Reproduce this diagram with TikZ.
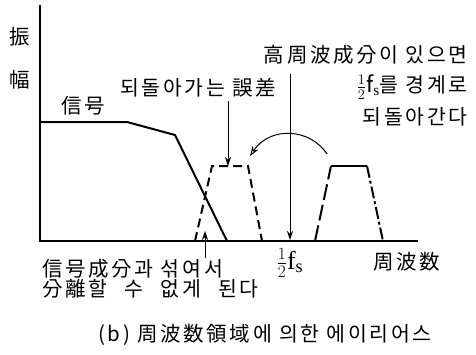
\documentclass[tikz,border=0pt]{standalone}
\usepackage{fontspec}
\setmainfont{Liberation Serif}
\newfontfamily\kr[LetterSpace=13]{Noto Sans CJK KR}
\usetikzlibrary{arrows.meta}
\newcommand\halffs{{\fontsize{22}{24}\selectfont$\frac{1}{2}$f$_{\mathrm s}$}}
\begin{document}
\begin{tikzpicture}[x=1pt,y=-1pt,
  lbl/.style={font=\kr\fontsize{20.5}{23}\selectfont, inner sep=0pt, align=center},
  axisline/.style={line width=1.4pt},
  curve/.style={line width=2pt, line join=miter},
  thinarrow/.style={line width=1pt, -{Stealth[length=9pt,width=6pt]}}]
\useasboundingbox (0,0) rectangle (476,354);
% axes
\coordinate (O) at (40,241);
\coordinate (ytop) at (40,5);
\coordinate (xend) at (418,241);
\draw[axisline] (ytop) -- (O) -- (xend);
% labels on axes
\node[lbl] (amp1) at (20,37) {振};
\node[lbl] (amp2) at (20,80) {幅};
\node[lbl] (freq) at (407,262) {周波数};
\node[inner sep=0pt, font=\fontsize{26}{28}\selectfont] (fs) at (290,263) {$\frac{1}{2}$f$_{\mathrm s}$};
% signal
\node[lbl] (sig) at (83,106) {信号};
\draw[curve] (40,122) -- (127,122) -- (175,135) -- (227,241);
% aliased error (dashed)
\draw[curve, dash pattern=on 9pt off 5pt] (195,241) -- (212,166) -- (248,166) -- (262,241);
% high frequency component
\draw[curve, dash pattern=on 16pt off 5pt] (315,241) -- (331,166);
\draw[curve] (331,166) -- (367,166);
\draw[curve, dash pattern=on 12pt off 3pt on 3pt off 3pt] (367,166) -- (383,241);
% error label and arrow
\node[lbl] (err) at (198,88) {되돌아가는 誤差};
\coordinate (errtip) at (228,166);
\draw[thinarrow] (228,101) -- (errtip);
% half fs line
\coordinate (fstop) at (290,74);
\coordinate (fsbot) at (290,240);
\draw[thinarrow] (fstop) -- (fsbot);
% folding explanation
\node[lbl, anchor=east] (hf1) at (468,55) {高周波成分이 있으면};
\node[lbl, anchor=east] (hf2) at (468,87) {\halffs\kr\fontsize{20.5}{23}\selectfont 를 경계로};
\node[lbl, anchor=east] (hf3) at (468,117) {되돌아간다};
\coordinate (arcstart) at (327,154);
\coordinate (arcend) at (250,156);
\draw[line width=1pt, -{Stealth[length=10pt,width=7pt,open]}] (arcstart) .. controls (310,128) and (270,126) .. (arcend);
% mixing label
\node[lbl, anchor=north west, align=left] (mix) at (42,259) {信号成分과 섞여서\\[-3pt]分離할\hspace{10pt} 수\hspace{10pt} 없게\hspace{10pt} 된다};
\coordinate (mixtip) at (205,231);
\draw[thinarrow] (205,258) -- (mixtip);
% caption
\node[lbl] (cap) at (265,335) {(b) 周波数領域에 의한 에이리어스};
\end{tikzpicture}
\end{document}
